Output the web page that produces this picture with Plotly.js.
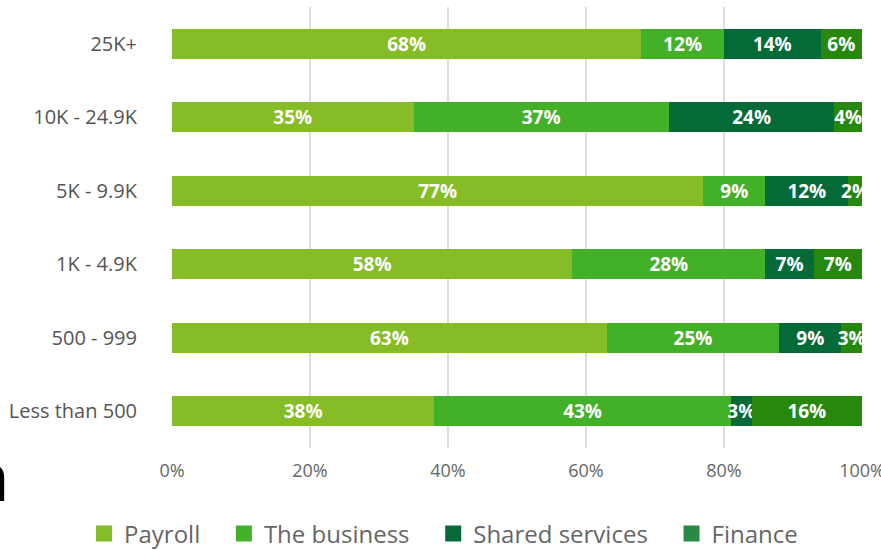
<!DOCTYPE html>
<html>
<head>
<meta charset="utf-8">
<script src="https://cdn.plot.ly/plotly-3.0.1.min.js"></script>
<style>html,body{margin:0;padding:0;background:#fff;}#chart{width:881px;height:550px;}</style>
</head>
<body>
<div id="chart"></div>
<script>
const categories = ["Less than 500", "500 - 999", "1K - 4.9K", "5K - 9.9K", "10K - 24.9K", "25K+"];
const payroll = [38, 63, 58, 77, 35, 68];
const business = [43, 25, 28, 9, 37, 12];
const shared = [3, 9, 7, 12, 24, 14];
const finance = [16, 3, 7, 2, 4, 6];
const seriesNames = ["Payroll", "The business", "Shared services", "Finance"];
const xTickVals = [0, 20, 40, 60, 80, 100];
const xTickText = ["0%", "20%", "40%", "60%", "80%", "100%"];

const barColors = ["#86bc25", "#43b02a", "#046a38", "#26890d"];
const legendColors = ["#86bc25", "#43b02a", "#046a38", "#2a8a45"];
const seriesValues = [payroll, business, shared, finance];

const traces = seriesValues.map((vals, i) => ({
  type: "bar",
  orientation: "h",
  y: categories,
  x: vals,
  name: seriesNames[i],
  showlegend: false,
  marker: {color: barColors[i], line: {width: 0}},
  text: vals.map(v => v + "%"),
  textposition: "inside",
  insidetextanchor: "middle",
  constraintext: "none",
  textangle: 0,
  textfont: {family: "Open Sans", size: 19, color: "#ffffff", weight: "bold"},
  hoverinfo: "skip",
  width: 0.41
}));

seriesNames.forEach((n, i) => {
  traces.push({
    type: "scatter", mode: "markers",
    x: [null], y: [null], name: n + "\u00a0\u00a0\u00a0",
    marker: {symbol: "square", size: 19, color: legendColors[i]},
    showlegend: true, hoverinfo: "skip"
  });
});

const layout = {
  width: 881, height: 550,
  margin: {l: 172, r: 19, t: 7, b: 102, autoexpand: false},
  paper_bgcolor: "#ffffff",
  plot_bgcolor: "#ffffff",
  barmode: "stack",
  bargap: 0.59,
  font: {family: "Open Sans", color: "#666666"},
  xaxis: {
    range: [0, 100],
    tickvals: xTickVals,
    ticktext: xTickText,
    showgrid: true,
    gridcolor: "#dddddd",
    gridwidth: 1.5,
    zeroline: false,
    showline: false,
    ticks: "",
    ticklabelstandoff: 10,
    ticklabeloverflow: "allow",
    automargin: false,
    tickfont: {family: "Open Sans", size: 18, color: "#666666"},
    fixedrange: true
  },
  yaxis: {
    type: "category",
    categoryorder: "array",
    categoryarray: categories,
    range: [-0.5, 5.5],
    showgrid: false,
    zeroline: false,
    showline: false,
    ticks: "",
    ticklabelstandoff: 34,
    automargin: false,
    tickfont: {family: "Open Sans", size: 20, color: "#555555"},
    fixedrange: true
  },
  showlegend: true,
  legend: {
    orientation: "h",
    xref: "paper", yref: "paper",
    x: -0.1275, xanchor: "left",
    y: -0.195, yanchor: "middle",
    font: {family: "Open Sans", size: 24, color: "#666666"},
    itemsizing: "trace",
    traceorder: "normal",
    bgcolor: "rgba(0,0,0,0)"
  },
  annotations: [{
    text: "n",
    xref: "paper", yref: "paper",
    x: -0.232, xanchor: "right",
    y: -0.17, yanchor: "bottom",
    showarrow: false,
    font: {family: "Open Sans", size: 68, color: "#000000"}
  }]
};

Plotly.newPlot("chart", traces, layout, {displayModeBar: false, staticPlot: true});
</script>
</body>
</html>
